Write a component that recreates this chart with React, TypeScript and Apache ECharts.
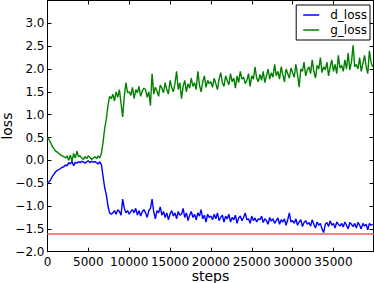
import React, { useEffect, useRef } from "react";
import * as echarts from "echarts";

const STEP = 200;

const dLoss = [
  -0.50, -0.47, -0.42, -0.35, -0.30, -0.25, -0.22, -0.20, -0.18, -0.15,
  -0.14, -0.10, -0.12, -0.05, -0.08, -0.02, -0.12, -0.04, -0.06, -0.03,
  -0.05, -0.02, -0.04, -0.06, -0.03, -0.01, -0.05, -0.02, -0.04, -0.03,
  -0.05, -0.08, -0.03, -0.10, -0.35, -0.60, -0.75, -1.00, -1.15, -1.18,
  -1.15, -1.10, -1.18, -1.08, -1.12, -1.20, -0.85, -1.05, -1.15, -1.10,
  -1.18, -1.12, -1.08, -1.15, -1.05, -1.20, -1.10, -1.22, -1.12, -1.08,
  -1.15, -1.25, -1.10, -1.05, -0.85, -1.12, -1.28, -1.10, -1.15, -1.02,
  -1.20, -1.12, -1.25, -1.15, -1.30, -1.18, -1.10, -1.22, -1.15, -1.28,
  -1.12, -1.20, -1.18, -1.05, -1.25, -1.15, -1.32, -1.20, -1.12, -1.25,
  -1.18, -1.30, -1.15, -1.22, -1.08, -1.28, -1.20, -1.35, -1.18, -1.25,
  -1.22, -1.30, -1.18, -1.28, -1.15, -1.32, -1.25, -1.20, -1.35, -1.22,
  -1.28, -1.18, -1.35, -1.25, -1.30, -1.20, -1.38, -1.26, -1.22, -1.32,
  -1.25, -1.15, -1.30, -1.28, -1.38, -1.22, -1.32, -1.26, -1.35, -1.28,
  -1.30, -1.22, -1.36, -1.28, -1.32, -1.40, -1.25, -1.33, -1.28, -1.38,
  -1.32, -1.26, -1.40, -1.30, -1.35, -1.28, -1.42, -1.30, -1.15, -1.35,
  -1.32, -1.38, -1.28, -1.42, -1.35, -1.30, -1.45, -1.36, -1.32, -1.40,
  -1.36, -1.44, -1.30, -1.40, -1.48, -1.35, -1.42, -1.38, -1.50, -1.58,
  -1.40, -1.36, -1.45, -1.32, -1.42, -1.38, -1.48, -1.35, -1.40, -1.44,
  -1.38, -1.46, -1.35, -1.42, -1.50, -1.36, -1.40, -1.45, -1.38, -1.48,
  -1.36, -1.42, -1.50, -1.38, -1.44, -1.40, -1.52, -1.38, -1.42, -1.40,
];

const gLoss = [
  0.50, 0.45, 0.38, 0.30, 0.25, 0.20, 0.18, 0.15, 0.12, 0.10,
  0.08, 0.05, 0.10, 0.00, 0.12, -0.02, 0.15, 0.05, 0.20, 0.08,
  0.10, 0.05, 0.02, 0.08, 0.04, 0.10, 0.06, 0.02, 0.05, 0.08,
  0.04, 0.10, 0.05, 0.15, 0.40, 0.70, 0.90, 1.20, 1.40, 1.35,
  1.45, 1.30, 1.50, 1.38, 1.55, 1.25, 0.95, 1.40, 1.70, 1.48,
  1.50, 1.42, 1.60, 1.35, 1.55, 1.48, 1.62, 1.40, 1.52, 1.58,
  1.55, 1.38, 1.50, 1.20, 1.90, 1.45, 1.60, 1.52, 1.40, 1.65,
  1.58, 1.48, 1.70, 1.55, 1.45, 1.75, 1.60, 1.50, 1.68, 1.95,
  1.55, 1.70, 1.35, 1.62, 1.75, 1.50, 1.68, 1.58, 1.80, 1.62,
  1.70, 1.55, 1.95, 1.65, 1.50, 1.72, 1.85, 1.60, 1.75, 1.68,
  1.72, 1.60, 1.80, 1.68, 1.55, 1.78, 1.92, 1.70, 1.62, 1.85,
  1.75, 1.65, 1.90, 1.72, 1.80, 1.58, 1.85, 1.70, 1.95, 1.78,
  1.82, 1.68, 1.75, 1.90, 1.62, 1.85, 1.78, 2.05, 1.80, 1.72,
  1.88, 1.75, 1.95, 1.70, 1.85, 2.00, 1.78, 1.92, 1.82, 2.10,
  1.85, 1.95, 1.78, 2.05, 1.88, 1.72, 2.00, 1.90, 1.80, 2.02,
  1.92, 1.82, 2.10, 1.88, 1.60, 2.00, 1.95, 2.15, 1.85, 1.98,
  2.05, 1.90, 2.20, 1.95, 1.80, 2.08, 2.00, 2.25, 1.92, 2.05,
  1.98, 2.15, 1.85, 2.05, 2.20, 1.95, 2.10, 1.90, 2.30, 2.02,
  2.08, 1.95, 2.20, 2.00, 2.35, 1.98, 2.15, 2.52, 2.05, 2.10,
  2.00, 2.25, 1.95, 2.12, 2.30, 2.05, 1.90, 2.40, 2.15, 2.05,
];

const refLevel = -1.6;
const seriesNames = ["d_loss", "g_loss"];

const FONT = "DejaVu Sans";

function fmtY(v: number) {
  return v.toFixed(1).replace("-", "\u2212");
}

export default function App() {
  const ref = useRef<HTMLDivElement>(null);
  useEffect(() => {
    if (!ref.current) return;
    const chart = echarts.init(ref.current, undefined, { renderer: "svg" });
    const steps = dLoss.map((_, i) => i * STEP);
    const tickCommon = {
      axisLine: { show: true, onZero: false, lineStyle: { color: "#000", width: 1 } },
      axisTick: { show: true, inside: true, length: 4, lineStyle: { color: "#000", width: 1 } },
      splitLine: { show: false },
    };
    chart.setOption({
      animation: false,
      backgroundColor: "#fff",
      textStyle: { fontFamily: FONT },
      grid: {
        left: 47.5,
        right: 0.5,
        top: 0.5,
        bottom: 31.3,
        containLabel: false,
        outerBoundsMode: "none",
      },
      legend: {
        data: seriesNames,
        orient: "vertical",
        right: 4,
        top: 5,
        icon: "rect",
        itemWidth: 16,
        itemHeight: 1.5,
        itemGap: 3,
        padding: [4, 3, 4, 7],
        borderColor: "#000",
        borderWidth: 1,
        borderRadius: 0,
        backgroundColor: "#fff",
        textStyle: { fontFamily: FONT, fontSize: 12, color: "#000", padding: [0, 0, 0, 6] },
      },
      xAxis: [
        {
          type: "value",
          min: 0,
          max: 39900,
          interval: 5000,
          name: "steps",
          nameLocation: "middle",
          nameGap: 17,
          nameMoveOverlap: false,
          nameTextStyle: { fontFamily: FONT, fontSize: 14, color: "#000" },
          axisLabel: {
            color: "#000",
            fontSize: 12,
            fontFamily: FONT,
            margin: 4,
            showMaxLabel: false,
            formatter: (v: number) => String(v),
          },
          ...tickCommon,
        },
        {
          type: "value",
          position: "top",
          min: 0,
          max: 39900,
          interval: 5000,
          axisLabel: { show: false },
          ...tickCommon,
        },
      ],
      yAxis: [
        {
          type: "value",
          min: -2,
          max: 3.5,
          interval: 0.5,
          name: "loss",
          nameLocation: "middle",
          nameGap: 34,
          nameMoveOverlap: false,
          nameTextStyle: { fontFamily: FONT, fontSize: 14, color: "#000" },
          axisLabel: {
            color: "#000",
            fontSize: 12,
            fontFamily: FONT,
            margin: 3,
            showMaxLabel: false,
            formatter: (v: number) => fmtY(v),
          },
          ...tickCommon,
        },
        {
          type: "value",
          position: "right",
          min: -2,
          max: 3.5,
          interval: 0.5,
          axisLabel: { show: false },
          ...tickCommon,
        },
      ],
      series: [
        {
          name: seriesNames[0],
          type: "line",
          data: steps.map((s, i) => [s, dLoss[i]]),
          showSymbol: false,
          symbol: "none",
          lineStyle: { color: "#0000ff", width: 1.4 },
          itemStyle: { color: "#0000ff" },
          markLine: {
            silent: true,
            symbol: "none",
            label: { show: false },
            lineStyle: { color: "#ff8080", width: 1.8, type: "solid" },
            data: [{ yAxis: refLevel }],
          },
        },
        {
          name: seriesNames[1],
          type: "line",
          data: steps.map((s, i) => [s, gLoss[i]]),
          showSymbol: false,
          symbol: "none",
          lineStyle: { color: "#008000", width: 1.4 },
          itemStyle: { color: "#008000" },
        },
      ],
    });
    return () => chart.dispose();
  }, []);
  return (
    <div
      ref={ref}
      style={{ position: "fixed", left: 0, top: 0, width: 374, height: 283 }}
    />
  );
}
